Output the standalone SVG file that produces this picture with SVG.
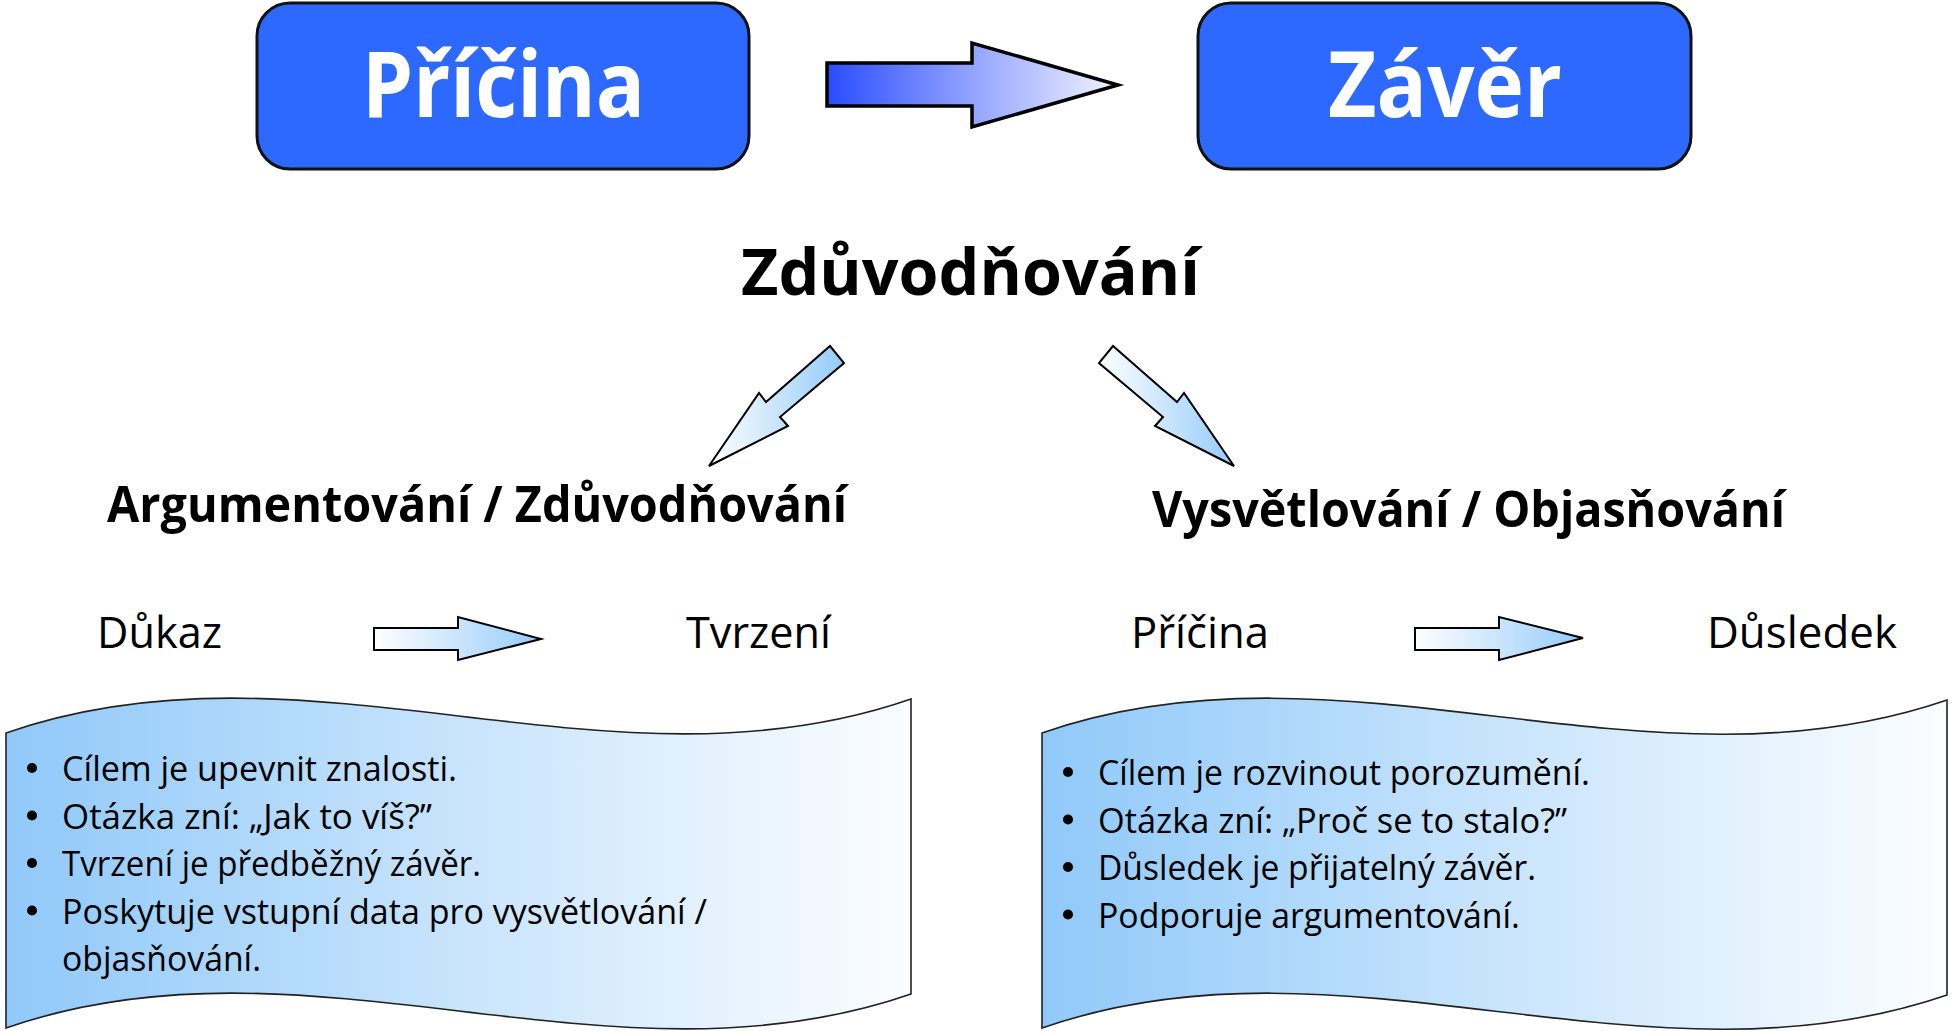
<svg xmlns="http://www.w3.org/2000/svg" width="1959" height="1031" viewBox="0 0 1959 1031">
<style>
.t{font-family:"Open Sans","Noto Sans","DejaVu Sans",sans-serif;fill:#000}
.b{font-weight:bold}
.w{fill:#fff}
.box{fill:#2d69ff;stroke:#111;stroke-width:3}
.arr{fill:url(#ga);stroke:#000;stroke-width:2;stroke-linejoin:miter}
.ban{stroke:#222;stroke-width:1.6}
.big{fill:url(#gt);stroke:#000;stroke-width:3.5}
.bul{font-size:34px}
.lab{font-size:43px}
.hd{font-size:50px}
</style>
<defs>
<linearGradient id="gt" x1="0" y1="0" x2="1" y2="0">
<stop offset="0" stop-color="#2a4cff"/>
<stop offset="0.5" stop-color="#93a4ff"/>
<stop offset="1" stop-color="#f2f4ff"/>
</linearGradient>
<linearGradient id="ga" x1="0" y1="0" x2="1" y2="0">
<stop offset="0" stop-color="#ffffff"/>
<stop offset="1" stop-color="#94cbfa"/>
</linearGradient>
<linearGradient id="gb" x1="0" y1="0" x2="1" y2="0">
<stop offset="0" stop-color="#90c9f9"/>
<stop offset="0.5" stop-color="#c8e4fc"/>
<stop offset="1" stop-color="#fbfdff"/>
</linearGradient>
</defs>

<g id="node-pricina">
<rect class="box" x="257" y="3" width="492" height="166" rx="33" ry="33"/>
<text class="t b w" x="362" y="117" font-size="91" textLength="283" lengthAdjust="spacingAndGlyphs">Příčina</text>
</g>

<g id="node-zaver">
<rect class="box" x="1198" y="3" width="493" height="166" rx="33" ry="33"/>
<text class="t b w" x="1328" y="117" font-size="91" textLength="234" lengthAdjust="spacingAndGlyphs">Závěr</text>
</g>

<g id="node-title">
<text class="t b" x="741" y="295" font-size="64" textLength="459" lengthAdjust="spacingAndGlyphs">Zdůvodňování</text>
</g>

<g id="node-argumentovani">
<text class="t b hd" x="107" y="522" textLength="740" lengthAdjust="spacingAndGlyphs">Argumentování / Zdůvodňování</text>
<text class="t lab" x="97" y="648" textLength="125" lengthAdjust="spacingAndGlyphs">Důkaz</text>
<text class="t lab" x="686" y="648" textLength="145" lengthAdjust="spacingAndGlyphs">Tvrzení</text>
</g>

<g id="node-vysvetlovani">
<text class="t b hd" x="1152" y="527" textLength="633" lengthAdjust="spacingAndGlyphs">Vysvětlování / Objasňování</text>
<text class="t lab" x="1131" y="648" textLength="138" lengthAdjust="spacingAndGlyphs">Příčina</text>
<text class="t lab" x="1707" y="648" textLength="190" lengthAdjust="spacingAndGlyphs">Důsledek</text>
</g>

<g id="node-banner-left">
<path class="ban" fill="url(#gb)" d="M6,733 C308,628 609,804 911,699 L911,994 C609,1099 308,923 6,1028 Z"/>
<g class="t bul">
<circle cx="32" cy="768" r="5"/>
<text x="62" y="781" textLength="395" lengthAdjust="spacingAndGlyphs">Cílem je upevnit znalosti.</text>
<circle cx="32" cy="815.5" r="5"/>
<text x="62" y="828.5" textLength="370" lengthAdjust="spacingAndGlyphs">Otázka zní: „Jak to víš?”</text>
<circle cx="32" cy="863" r="5"/>
<text x="62" y="876" textLength="419" lengthAdjust="spacingAndGlyphs">Tvrzení je předběžný závěr.</text>
<circle cx="32" cy="910.5" r="5"/>
<text x="62" y="923.5" textLength="645" lengthAdjust="spacingAndGlyphs">Poskytuje vstupní data pro vysvětlování /</text>
<text x="62" y="971" textLength="199" lengthAdjust="spacingAndGlyphs">objasňování.</text>
</g>
</g>

<g id="node-banner-right">
<path class="ban" fill="url(#gb)" d="M1042,733 C1344,628 1645,804 1947,700 L1947,995 C1645,1099 1344,923 1042,1028 Z"/>
<g class="t bul">
<circle cx="1068" cy="772" r="5"/>
<text x="1098" y="785" textLength="492" lengthAdjust="spacingAndGlyphs">Cílem je rozvinout porozumění.</text>
<circle cx="1068" cy="819.5" r="5"/>
<text x="1098" y="832.5" textLength="469" lengthAdjust="spacingAndGlyphs">Otázka zní: „Proč se to stalo?”</text>
<circle cx="1068" cy="867" r="5"/>
<text x="1098" y="880" textLength="438" lengthAdjust="spacingAndGlyphs">Důsledek je přijatelný závěr.</text>
<circle cx="1068" cy="914.5" r="5"/>
<text x="1098" y="927.5" textLength="422" lengthAdjust="spacingAndGlyphs">Podporuje argumentování.</text>
</g>
</g>

<g id="connectors">
<polygon class="big" points="827,63 972,63 972,43 1118,85 972,127 972,106 827,106"/>
<polygon class="arr" points="830,346 844,363 780,417 788,426 709,466 759,393 766,402"/>
<polygon class="arr" points="1113,346 1099,363 1163,417 1155,426 1234,466 1184,393 1177,402"/>
<polygon class="arr" points="374,628 458,628 458,617 541,639 458,660 458,650 374,650"/>
<polygon class="arr" points="1415,628 1499,628 1499,617 1583,638 1499,660 1499,650 1415,650"/>
</g>
</svg>
